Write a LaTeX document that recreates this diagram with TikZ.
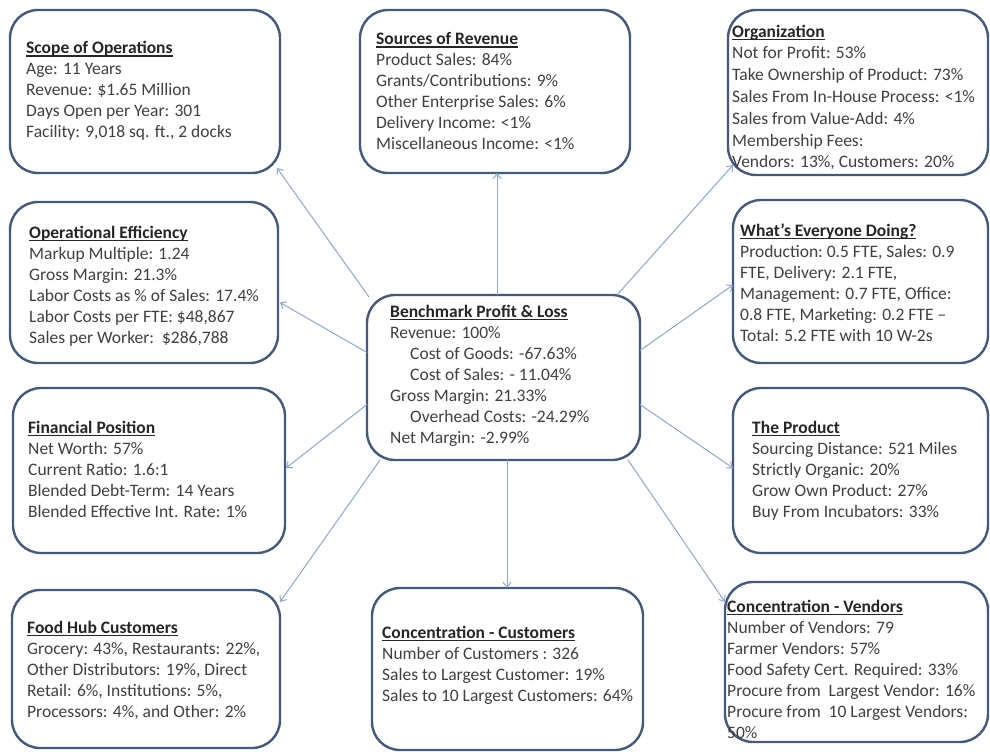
\documentclass[tikz,border=0pt]{standalone}
\usepackage{fontspec}
\setmainfont{Carlito}
\usetikzlibrary{calc,arrows.meta}
\definecolor{boxline}{HTML}{44597C}
\definecolor{connclr}{HTML}{8EA8D4}
\definecolor{txt}{HTML}{404040}
\newcommand\boxtitle[1]{{\color{black!85}\setbox0\hbox{\textbf{#1}}\rlap{\rule[-2.6pt]{\wd0}{1.1pt}}\box0}}
\begin{document}
\begin{tikzpicture}[x=1pt,y=-1pt,
 hubbox/.style={draw=boxline, line width=2.4pt, rounded corners=28pt, fill=white, inner sep=0pt, outer sep=0pt},
 info/.style={anchor=base west, align=left, inner sep=0pt, text=txt, font=\fontsize{17.5}{21}\selectfont},
 link/.style={draw=connclr, line width=1pt, -{Straight Barb[length=5pt,width=8pt]}}]
\useasboundingbox (0,0) rectangle (990,754);
\fill[white] (0,0) rectangle (990,754);
% boxes
\node[hubbox, minimum width=270pt, minimum height=163pt] (scope) at (145,91.5) {};
\node[hubbox, minimum width=270pt, minimum height=163pt] (sources) at (495,91.5) {};
\node[hubbox, minimum width=260pt, minimum height=165pt] (org) at (858,92.5) {};
\node[hubbox, minimum width=268pt, minimum height=161pt] (opeff) at (144,282.5) {};
\node[hubbox, minimum width=273pt, minimum height=165pt] (c) at (503.5,377.5) {};
\node[hubbox, minimum width=255pt, minimum height=163pt] (every) at (860.5,281.5) {};
\node[hubbox, minimum width=272pt, minimum height=165pt] (fin) at (149,470.5) {};
\node[hubbox, minimum width=255pt, minimum height=165pt] (prod) at (860.5,470.5) {};
\node[hubbox, minimum width=268pt, minimum height=158pt] (food) at (146,669) {};
\node[hubbox, minimum width=271pt, minimum height=162pt] (custs) at (507.5,669) {};
\node[hubbox, minimum width=263pt, minimum height=160pt] (vend) at (856.5,662) {};
% texts (anchored at the baseline of their last line)
\node[info] (scopeT) at (26,138) {\boxtitle{Scope of Operations}\\Age: 11 Years\\Revenue: \$1.65 Million\\Days Open per Year: 301\\Facility: 9,018 sq. ft., 2 docks};
\node[info] (sourcesT) at (376,150) {\boxtitle{Sources of Revenue}\\Product Sales: 84\%\\Grants/Contributions: 9\%\\Other Enterprise Sales: 6\%\\Delivery Income: <1\%\\Miscellaneous Income: <1\%};
\node[info, font=\fontsize{17.5}{21.8}\selectfont] (orgT) at (732,168) {\boxtitle{Organization}\\Not for Profit: 53\%\\Take Ownership of Product: 73\%\\Sales From In-House Process: <1\%\\Sales from Value-Add: 4\%\\Membership Fees:\\Vendors: 13\%, Customers: 20\%};
\node[info] (opeffT) at (29,343) {\boxtitle{Operational Efficiency}\\Markup Multiple: 1.24\\Gross Margin: 21.3\%\\Labor Costs as \% of Sales: 17.4\%\\Labor Costs per FTE: \$48,867\\Sales per Worker:\ \ \$286,788};
\node[info] (cT) at (390,443) {\boxtitle{Benchmark Profit \& Loss}\\Revenue: 100\%\\\hspace*{20pt}Cost of Goods: -67.63\%\\\hspace*{20pt}Cost of Sales: - 11.04\%\\Gross Margin: 21.33\%\\\hspace*{20pt}Overhead Costs: -24.29\%\\Net Margin: -2.99\%};
\node[info] (everyT) at (740,341) {\boxtitle{What’s Everyone Doing?}\\Production:\ 0.5 FTE, Sales: 0.9\\FTE, Delivery: 2.1 FTE,\\Management: 0.7 FTE, Office:\\0.8 FTE, Marketing: 0.2 FTE –\\Total: 5.2 FTE with 10 W-2s};
\node[info] (finT) at (28,517.5) {\boxtitle{Financial Position}\\Net Worth: 57\%\\Current Ratio: 1.6:1\\Blended Debt-Term: 14 Years\\Blended Effective Int. Rate: 1\%};
\node[info] (prodT) at (752,517.5) {\boxtitle{The Product}\\Sourcing Distance: 521 Miles\\Strictly Organic: 20\%\\Grow Own Product: 27\%\\Buy From Incubators: 33\%};
\node[info] (foodT) at (27,717.5) {\boxtitle{Food Hub Customers}\\Grocery: 43\%,\ Restaurants: 22\%,\\Other Distributors: 19\%, Direct\\Retail: 6\%, Institutions: 5\%,\\Processors: 4\%, and Other: 2\%};
\node[info] (custsT) at (382,701.5) {\boxtitle{Concentration - Customers}\\Number\ of Customers : 326\\Sales to Largest Customer: 19\%\\Sales to 10 Largest Customers: 64\%};
\node[info] (vendT) at (727,738.5) {\boxtitle{Concentration - Vendors}\\Number\ of Vendors: 79\\Farmer Vendors: 57\%\\Food Safety Cert. Required: 33\%\\Procure from\ \ Largest Vendor: 16\%\\Procure from\ \ 10 Largest Vendors:\\50\%};
% connectors
\draw[link] ($(c.north west)+(2,2)$) -- ($(scope.south east)+(-3,-5)$);
\draw[link] ($(c.north)+(-6.5,0)$) -- ($(sources.south)+(2,0)$);
\draw[link] ($(c.north east)+(-23,0)$) -- ($(org.south west)+(5,-10)$);
\draw[link] ($(c.west)+(0,-25)$) -- ($(opeff.east)+(2,20)$);
\draw[link] ($(c.east)+(0,-27)$) -- ($(every.west)+(0,3.5)$);
\draw[link] ($(c.west)+(0,27)$) -- ($(fin.east)+(1,-2.5)$);
\draw[link] ($(c.east)+(0,27)$) -- ($(prod.west)+(0,-2.5)$);
\draw[link] ($(c.south west)+(13,0)$) -- ($(food.north east)+(0,12)$);
\draw[link] ($(c.south)+(3.5,0)$) -- ($(custs.north)+(-0.5,0)$);
\draw[link] ($(c.south east)+(-12,0)$) -- ($(vend.north west)+(0,20)$);
\end{tikzpicture}
\end{document}
